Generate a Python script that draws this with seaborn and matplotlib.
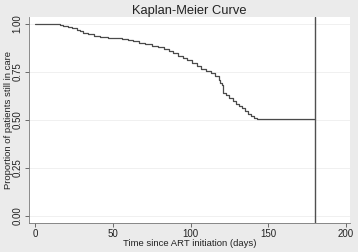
import numpy as np
import pandas as pd
import matplotlib
matplotlib.use("Agg")
import matplotlib.pyplot as plt
import seaborn as sns

# survival estimates (step function)
times = [0, 14, 16, 18, 21, 24, 27, 29, 31, 34, 38, 42, 47, 52, 56, 60, 63, 67, 71, 75,
         79, 83, 86, 89, 92, 95, 98, 101, 104, 107, 110, 113, 116, 118, 119, 120, 121,
         123, 125, 127, 129, 131, 133, 135, 137, 139, 141, 143, 180]
surv = [1.0, 1.0, 0.995, 0.99, 0.985, 0.978, 0.97, 0.96, 0.952, 0.945, 0.938, 0.932,
        0.928, 0.924, 0.921, 0.915, 0.908, 0.90, 0.893, 0.885, 0.877, 0.868, 0.858,
        0.846, 0.834, 0.82, 0.81, 0.795, 0.78, 0.766, 0.755, 0.742, 0.728, 0.71, 0.69,
        0.68, 0.64, 0.63, 0.615, 0.60, 0.583, 0.572, 0.56, 0.545, 0.532, 0.52, 0.51,
        0.505, 0.505]
x_ticks = [0, 50, 100, 150, 200]
y_ticks = [0.0, 0.25, 0.5, 0.75, 1.0]
cutoff = 180

df = pd.DataFrame({"time": times, "surv": surv})

sns.set_style("white")
plt.rcParams["font.family"] = ["Liberation Sans", "DejaVu Sans"]

bg = "#ebebeb"
fig = plt.figure(figsize=(3.58, 2.52), dpi=100, facecolor=bg)
ax = fig.add_axes([0.081, 0.115, 0.897, 0.818])
ax.set_facecolor("white")

sns.lineplot(data=df, x="time", y="surv", drawstyle="steps-post", color="#4a4a4a",
             linewidth=0.9, ax=ax)
ax.axvline(cutoff, color="#505050", linewidth=1.0)

ax.set_xlim(-3.9, 202.6)
ax.set_ylim(-0.036, 1.036)
ax.set_xticks(x_ticks)
ax.set_yticks(y_ticks)
ax.set_yticklabels([f"{v:.2f}" for v in y_ticks], rotation=90, va="center")
ax.grid(axis="y", color="#eeeeee", linewidth=0.6)
ax.tick_params(axis="both", direction="out", length=3, width=0.6, color="#555555",
               labelsize=7, pad=1.5, labelcolor="#222222")
ax.tick_params(axis="x", bottom=True)
ax.tick_params(axis="y", left=True)

for s in ["top", "right"]:
    ax.spines[s].set_visible(False)
for s in ["left", "bottom"]:
    ax.spines[s].set_color("#777777")
    ax.spines[s].set_linewidth(0.6)

ax.set_title("Kaplan-Meier Curve", fontsize=9.3, color="#222222", pad=2)
ax.set_xlabel("Time since ART initiation (days)", fontsize=6.8, color="#222222", labelpad=0)
ax.set_ylabel("Proportion of patients still in care", fontsize=6.8, color="#222222", labelpad=0)

fig.savefig("out.png", dpi=100, facecolor=bg)
